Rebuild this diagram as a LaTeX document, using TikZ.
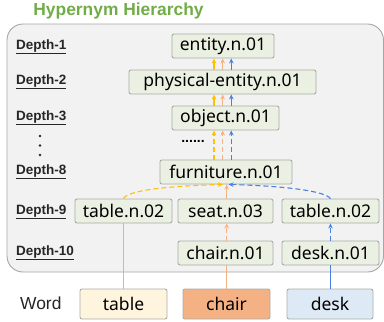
\documentclass[tikz,border=0pt]{standalone}
\usepackage{fontspec}
\setmainfont{Liberation Sans}
\newfontfamily\nodefont{Noto Sans}
\usetikzlibrary{arrows.meta}
\definecolor{boxfill}{HTML}{F2F2F2}
\definecolor{boxdraw}{HTML}{A6A6A6}
\definecolor{nfill}{HTML}{EBF1E2}
\definecolor{ndraw}{HTML}{A9ACA6}
\definecolor{ttlgreen}{HTML}{70AD47}
\definecolor{cyel}{HTML}{FFC000}
\definecolor{csal}{HTML}{F4B183}
\definecolor{cblu}{HTML}{4A80E3}
\definecolor{wtable}{HTML}{FFF4DE}
\definecolor{wchair}{HTML}{F4B183}
\definecolor{wdesk}{HTML}{DDEAF6}
\definecolor{dtext}{HTML}{262626}
\tikzset{
  syn/.style={draw=ndraw, fill=nfill, rounded corners=2pt, line width=0.9pt, minimum height=24pt, inner sep=0pt, font=\nodefont\fontsize{17.5}{19}\selectfont, text=black},
  wbox/.style={draw=ndraw, rounded corners=2pt, line width=0.9pt, minimum height=30pt, inner sep=0pt, font=\nodefont\fontsize{17.5}{19}\selectfont, text=black},
  dlab/.style={anchor=west, inner sep=0pt, font=\bfseries\fontsize{13.5}{15}\selectfont, text=dtext},
  upar/.style={-{Stealth[length=5pt,width=4.5pt]}, line width=1.1pt},
  dsh/.style={dash pattern=on 5pt off 3pt}
}
\begin{document}
\begin{tikzpicture}[x=1pt,y=-1pt]
\useasboundingbox (0,0) rectangle (384,322);
% title
\node[font=\bfseries\fontsize{17.4}{19}\selectfont, text=ttlgreen, inner sep=0pt] (title) at (118.5,11) {Hypernym Hierarchy};
% big box
\draw[draw=boxdraw, fill=boxfill, line width=0.9pt, rounded corners=16pt] (7,24) rectangle (383.5,272);
% depth labels
\node[dlab] (d1) at (16,47) {\underline{Depth-1}};
\node[dlab] (d2) at (16,82) {\underline{Depth-2}};
\node[dlab] (d3) at (16,118) {\underline{Depth-3}};
\node[dlab] (d8) at (16,172) {\underline{Depth-8}};
\node[dlab] (d9) at (16,212) {\underline{Depth-9}};
\node[dlab] (d10) at (16,253) {\underline{Depth-10}};
\foreach \yy in {136,145.5,155} \fill[dtext] (40,\yy) circle (1.3pt);
% synset nodes
\node[syn, minimum width=102pt] (ent) at (223,46) {entity.n.01};
\node[syn, minimum width=187pt] (phys) at (222.5,82) {physical-entity.n.01};
\node[syn, minimum width=107pt] (obj) at (225.5,118) {object.n.01};
\node[inner sep=0pt, font=\bfseries\fontsize{14}{15}\selectfont] (dots) at (193,141) {......};
\node[syn, minimum width=132pt] (furn) at (226,172) {furniture.n.01};
\node[syn, minimum width=97pt] (tl) at (123.5,211) {table.n.02};
\node[syn, minimum width=95pt] (seat) at (225.5,211) {seat.n.03};
\node[syn, minimum width=97pt] (tr) at (330.5,211) {table.n.02};
\node[syn, minimum width=95pt] (chn) at (225.5,253) {chair.n.01};
\node[syn, minimum width=97pt] (dkn) at (330.5,253) {desk.n.01};
% word row
\node[anchor=west, inner sep=0pt, font=\fontsize{17.4}{19}\selectfont, text=dtext] (word) at (20,303) {Word};
\node[wbox, fill=wtable, minimum width=87pt] (wt) at (123.5,304) {table};
\node[wbox, fill=wchair, minimum width=87pt] (wc) at (226.5,304) {chair};
\node[wbox, fill=wdesk, minimum width=86pt] (wd) at (330,304) {desk};
% x positions
\coordinate (xa) at (214,0);
\coordinate (xb) at (222.7,0);
\coordinate (xc) at (231.3,0);
\coordinate (xs) at (226.7,0);
\coordinate (xd) at (330.5,0);
\coordinate (xy) at (223,0);
\coordinate (xbl) at (228.5,0);
% solid short arrows
\draw[upar, cyel] (phys.north -| xa) -- (ent.south -| xa);
\draw[upar, csal] (phys.north -| xb) -- (ent.south -| xb);
\draw[upar, cblu] (phys.north -| xc) -- (ent.south -| xc);
\draw[upar, cyel] (obj.north -| xa) -- (phys.south -| xa);
\draw[upar, csal] (obj.north -| xb) -- (phys.south -| xb);
\draw[upar, cblu] (obj.north -| xc) -- (phys.south -| xc);
% dashed arrows furniture -> object
\draw[upar, dsh, cyel] (furn.north -| xa) -- (obj.south -| xa);
\draw[upar, dsh, csal] (furn.north -| xb) -- (obj.south -| xb);
\draw[upar, dsh, cblu] (furn.north -| xc) -- (obj.south -| xc);
% depth 9 -> furniture
\draw[upar, dsh, cyel] (tl.north) .. controls (128,190) and (170,186) .. (furn.south -| xy);
\draw[upar, dsh, cblu] (tr.north) .. controls (325,191) and (285,186) .. (furn.south -| xbl);
\draw[upar, csal] (seat.north -| xs) -- (furn.south -| xs);
% depth 10 -> depth 9
\draw[upar, dsh, csal] (chn.north -| xs) -- (seat.south -| xs);
\draw[upar, dsh, cblu] (dkn.north -| xd) -- (tr.south -| xd);
% word links
\draw[cyel, line width=1.1pt] (wt.north) -- (tl.south);
\draw[csal, line width=1.1pt] (wc.north -| xs) -- (chn.south -| xs);
\draw[cblu, line width=1.1pt] (wd.north -| xd) -- (dkn.south -| xd);
\end{tikzpicture}
\end{document}
